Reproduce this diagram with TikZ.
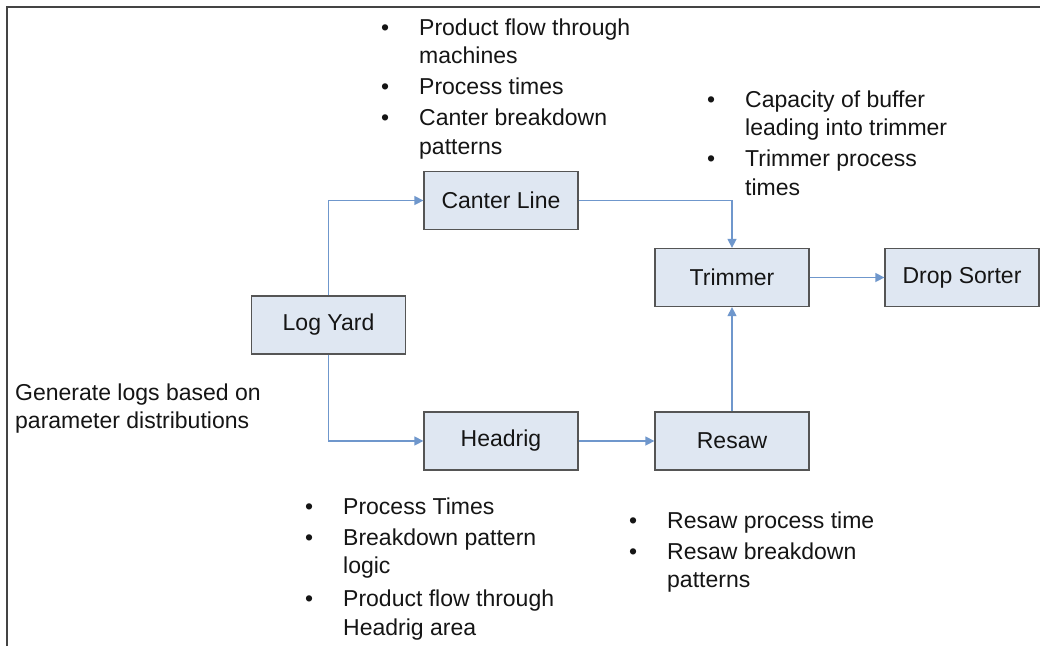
\documentclass[tikz,border=0pt]{standalone}
\usepackage{fontspec}
\setmainfont{Liberation Sans}
\usetikzlibrary{arrows.meta}
\definecolor{boxfill}{HTML}{DFE7F2}
\definecolor{boxline}{HTML}{555555}
\definecolor{flow}{HTML}{6F97CC}
\definecolor{ink}{HTML}{151515}
\definecolor{frameline}{HTML}{444444}
\newcommand\bul{\makebox[38pt][l]{\textbullet}}
\begin{document}
\begin{tikzpicture}[x=1pt,y=-1pt,
  every node/.style={text=ink, font=\fontsize{23}{28.5}\selectfont},
  stage/.style={draw=boxline, line width=1.3pt, fill=boxfill, minimum width=154pt, minimum height=58pt, inner sep=0pt},
  flowline/.style={draw=flow, line width=1.4pt, -{Triangle[length=9pt,width=9pt]}},
  note/.style={anchor=base west, inner sep=0pt, align=left}
]
\useasboundingbox (0,0) rectangle (1040,646);
\fill[white] (0,0) rectangle (1040,646);
\draw[frameline, line width=2pt] (7,646) -- (7,7) -- (1040,7);

\node[stage] (log) at (328.5,325) {Log Yard};
\node[stage] (canter) at (501,200.5) {Canter Line};
\node[stage] (headrig) at (501,441) {Headrig};
\node[stage] (trimmer) at (732,277.5) {Trimmer};
\node[stage] (resaw) at (732,441) {Resaw};
\node[stage] (drop) at (962,277.5) {Drop Sorter};

\draw[flowline] (log.north) |- (canter.west);
\draw[flowline] (log.south) |- (headrig.west);
\draw[flowline] (canter.east) -| (trimmer.north);
\draw[flowline] (trimmer.east) -- (drop.west);
\draw[flowline] (headrig.east) -- (resaw.west);
\draw[flowline] (resaw.north) -- (trimmer.south);

\node[note] (cnote) at (381,35) {\begin{tabular}[t]{@{}l@{}l@{}}
\bul & Product flow through\\
 & machines\\[2pt]
\bul & Process times\\[3pt]
\bul & Canter breakdown\\
 & patterns
\end{tabular}};

\node[note] (tnote) at (707,107) {\begin{tabular}[t]{@{}l@{}l@{}}
\bul & Capacity of buffer\\
 & leading into trimmer\\[2.5pt]
\bul & Trimmer process\\
 & times
\end{tabular}};

\node[note] (hnote) at (305,514.5) {\begin{tabular}[t]{@{}l@{}l@{}}
\bul & Process Times\\[2pt]
\bul & Breakdown pattern\\
 & logic\\[4.5pt]
\bul & Product flow through\\
 & Headrig area
\end{tabular}};

\node[note] (rnote) at (629,528) {\begin{tabular}[t]{@{}l@{}l@{}}
\bul & Resaw process time\\[2.5pt]
\bul & Resaw breakdown\\
 & patterns
\end{tabular}};

\node[note] (gnote) at (15,400) {\begin{tabular}[t]{@{}l@{}}
\fontsize{23}{30}\selectfont Generate logs based on\\
\fontsize{23}{30}\selectfont parameter distributions
\end{tabular}};
\end{tikzpicture}
\end{document}
